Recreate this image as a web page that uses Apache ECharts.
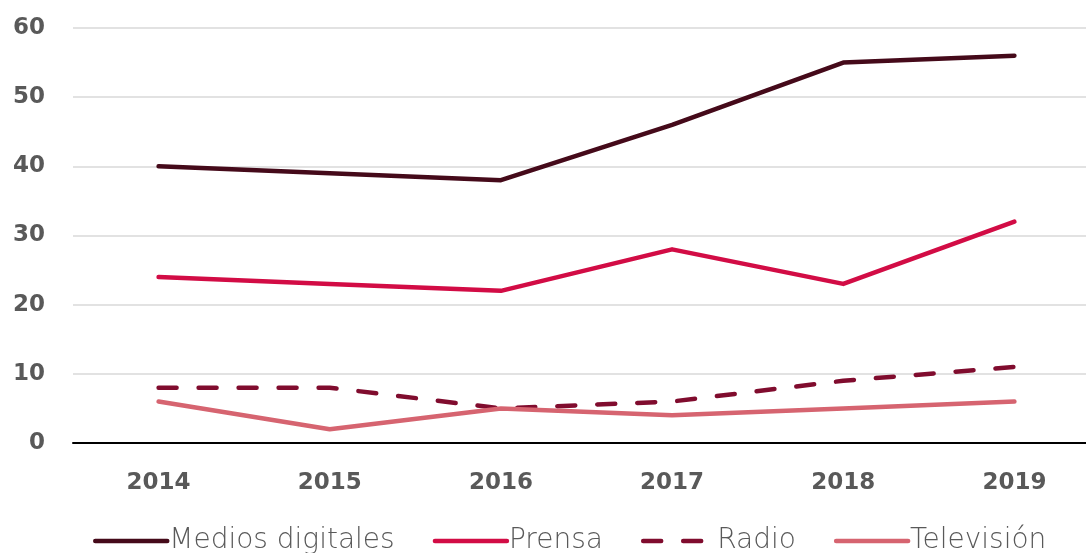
<!DOCTYPE html>
<html>
<head>
<meta charset="utf-8">
<script src="https://cdn.jsdelivr.net/npm/echarts@6/dist/echarts.min.js"></script>
<style>
  html, body { margin: 0; padding: 0; background: #fff; overflow: hidden; }
  #chart { width: 1100px; height: 553px; }
</style>
</head>
<body>
<div id="chart"></div>
<script>
var years = ['2014', '2015', '2016', '2017', '2018', '2019'];
var medios = [40, 39, 38, 46, 55, 56];
var prensa = [24, 23, 22, 28, 23, 32];
var radio = [8, 8, 5, 6, 9, 11];
var tele = [6, 2, 5, 4, 5, 6];

function makeLine(name, data, color, dash) {
  return {
    name: name,
    type: 'line',
    data: data,
    symbol: 'none',
    color: color,
    lineStyle: { color: color, width: 4.5, type: dash || 'solid', cap: 'round', join: 'round' }
  };
}

var option = {
  animation: false,
  grid: { left: 73, right: 0, top: 28, bottom: 110 },
  xAxis: {
    type: 'category',
    data: years,
    boundaryGap: true,
    axisLine: { lineStyle: { color: '#000', width: 2 } },
    axisTick: { show: false },
    axisLabel: { color: '#595959', fontSize: 23, fontWeight: 'bold', fontFamily: 'DejaVu Sans', margin: 29 }
  },
  yAxis: {
    type: 'value',
    min: 0, max: 60, interval: 10,
    axisLine: { show: false },
    axisTick: { show: false },
    splitLine: { lineStyle: { color: '#d9d9d9', width: 1.5 } },
    axisLabel: { color: '#595959', fontSize: 23, fontWeight: 'bold', fontFamily: 'DejaVu Sans', margin: 28 }
  },
  legend: {
    left: 88, top: 522,
    itemWidth: 72, itemHeight: 26, itemGap: 38,
    itemStyle: { opacity: 0 },
    lineStyle: { width: 4.5, cap: 'round' },
    textStyle: { color: '#595959', fontSize: 28, fontFamily: 'DejaVu Sans', fontWeight: 200, padding: [0, 0, 0, -3] },
    data: ['Medios digitales', 'Prensa', 'Radio', 'Televisión']
  },
  series: [
    makeLine('Medios digitales', medios, '#450a1a'),
    makeLine('Prensa', prensa, '#d20c45'),
    makeLine('Radio', radio, '#800c2e', [18, 22]),
    makeLine('Televisión', tele, '#d66470')
  ]
};

var myChart = echarts.init(document.getElementById('chart'));
myChart.setOption(option);
</script>
</body>
</html>
